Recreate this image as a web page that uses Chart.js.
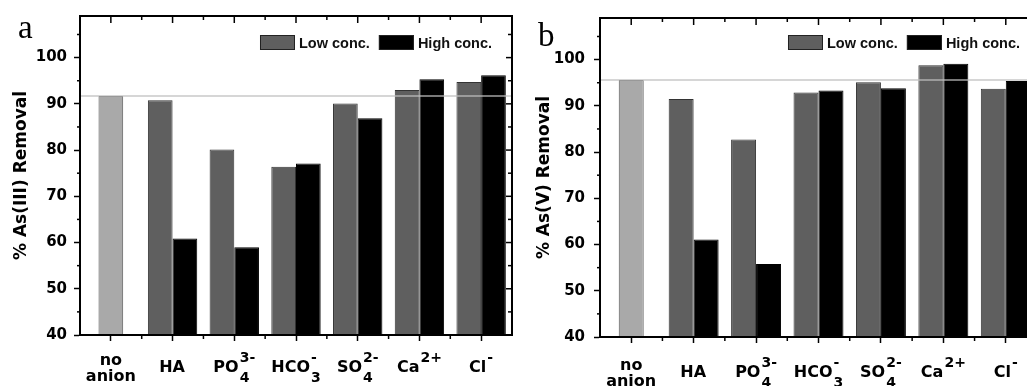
<!DOCTYPE html>
<html>
<head>
<meta charset="utf-8">
<script src="https://cdn.jsdelivr.net/npm/chart.js@4.4.0/dist/chart.umd.min.js"></script>
<style>
  html, body { margin: 0; padding: 0; overflow: hidden; background: #fff; }
  #wrapA { position: absolute; left: 0; top: 0; }
  #wrapB { position: absolute; left: 520px; top: 0; }
</style>
</head>
<body>
<div id="wrapA"><canvas id="chartA" width="520" height="386"></canvas></div>
<div id="wrapB"><canvas id="chartB" width="530" height="386"></canvas></div>
<script>
// categories and how their tick labels are typeset (base text, subscript, superscript)
const categories = ['no anion', 'HA', 'PO4 3-', 'HCO3 -', 'SO4 2-', 'Ca 2+', 'Cl -'];
const labelBase = [['no', 'anion'], ['HA'], ['PO'], ['HCO'], ['SO'], ['Ca'], ['Cl']];
const labelSub = ['', '', '4', '3', '4', '', ''];
const labelSup = ['', '', '3-', '-', '2-', '2+', '-'];

const yMin = 40, yMax = 109, yStep = 10;

// panel a: As(III)
const controlA = [91.7, null, null, null, null, null, null];
const lowA = [null, 90.8, 80.1, 76.4, 90.1, 93.0, 94.7];
const highA = [null, 60.9, 59.0, 77.1, 86.9, 95.3, 96.2];

// panel b: As(V)
const controlB = [95.6, null, null, null, null, null, null];
const lowB = [null, 91.5, 82.7, 92.9, 95.1, 98.8, 93.7];
const highB = [null, 61.1, 55.8, 93.3, 93.8, 99.1, 95.4];

const BIG = 'bold 16px "DejaVu Sans"';
const SMALL = 'bold 14px "DejaVu Sans"';

function line(ctx, x1, y1, x2, y2) {
    ctx.beginPath();
    ctx.moveTo(x1, y1);
    ctx.lineTo(x2, y2);
    ctx.stroke();
}

function drawLabel(ctx, i, cx, by) {
    const base = labelBase[i];
    ctx.fillStyle = '#000';
    ctx.textBaseline = 'alphabetic';
    if (base.length > 1) {
        ctx.font = BIG;
        ctx.textAlign = 'center';
        ctx.fillText(base[0], cx, by - 7);
        ctx.fillText(base[1], cx, by + 9);
        return;
    }
    ctx.font = BIG;
    const wb = ctx.measureText(base[0]).width;
    ctx.font = SMALL;
    const ws = Math.max(ctx.measureText(labelSub[i]).width, ctx.measureText(labelSup[i]).width);
    const start = cx - (wb + ws + 1) / 2;
    ctx.textAlign = 'left';
    ctx.font = BIG;
    ctx.fillText(base[0], start, by);
    ctx.font = SMALL;
    if (labelSub[i]) ctx.fillText(labelSub[i], start + wb + 1, by + 10);
    if (labelSup[i]) ctx.fillText(labelSup[i], start + wb + 1, by - 10);
}

const framePlugin = {
    id: 'frame',
    afterDraw(chart, args, o) {
        const ctx = chart.ctx;
        const a = chart.chartArea;
        const x = chart.scales.x, y = chart.scales.y;
        const n = chart.data.labels.length;
        ctx.save();

        // reference line at the "no anion" level
        const ry = y.getPixelForValue(chart.data.datasets[0].data[0]);
        ctx.strokeStyle = 'rgba(190,190,190,0.85)';
        ctx.lineWidth = 1.5;
        line(ctx, a.left, ry, a.right, ry);

        // frame + mirrored ticks
        ctx.strokeStyle = '#000';
        ctx.lineWidth = 2;
        ctx.strokeRect(a.left, a.top, a.width, a.height);
        ctx.lineWidth = 1.5;
        for (let i = 0; i < n; i++) {
            const cx = x.getPixelForValue(i);
            line(ctx, cx, a.top, cx, a.top + 7);
            if (i < n - 1) {
                const bx = (cx + x.getPixelForValue(i + 1)) / 2;
                line(ctx, bx, a.top, bx, a.top + 4);
                line(ctx, bx, a.bottom, bx, a.bottom + 4);
            }
        }
        for (let v = yMin + yStep / 2; v < yMax; v += yStep / 2) {
            const py = y.getPixelForValue(v);
            const major = v % yStep === 0;
            line(ctx, a.right, py, a.right - (major ? 6 : 4), py);
            if (!major) line(ctx, a.left, py, a.left - 3, py);
        }

        // legend inside the plot, top right
        ctx.font = 'bold 14.5px "Liberation Sans"';
        ctx.textBaseline = 'middle';
        ctx.textAlign = 'left';
        const items = chart.data.datasets.slice(1);
        const boxW = 35, boxH = 15, top = a.top + o.legendTop;
        let xr = a.right - o.legendRight;
        for (let k = items.length - 1; k >= 0; k--) {
            const w = ctx.measureText(items[k].label).width;
            xr -= w;
            ctx.fillStyle = '#111';
            ctx.fillText(items[k].label, xr, top + boxH / 2 + 1);
            xr -= 4 + boxW;
            ctx.fillStyle = items[k].backgroundColor;
            ctx.fillRect(xr, top, boxW, boxH);
            ctx.strokeStyle = '#222';
            ctx.lineWidth = 1;
            ctx.strokeRect(xr + 0.5, top + 0.5, boxW - 1, boxH - 1);
            xr -= 9;
        }

        // panel letter
        ctx.font = '33px "Liberation Serif"';
        ctx.textBaseline = 'alphabetic';
        ctx.fillStyle = '#000';
        ctx.fillText(o.letter, a.left - 62, a.top + o.letterDy);

        // category labels with sub/superscripts
        for (let i = 0; i < n; i++) {
            drawLabel(ctx, i, x.getPixelForValue(i), a.bottom + o.labelDy);
        }
        ctx.restore();
    }
};

function makePanel(id, control, low, high, p) {
    return new Chart(document.getElementById(id), {
        type: 'bar',
        data: {
            labels: categories,
            datasets: [{
                label: 'no anion',
                data: control,
                backgroundColor: '#a9a9a9',
                borderColor: '#555',
                borderWidth: 1,
                grouped: false,
                categoryPercentage: 0.8,
                barPercentage: 0.5
            }, {
                label: 'Low conc.',
                data: low,
                backgroundColor: '#5f5f5f',
                borderColor: '#333',
                borderWidth: 1,
                categoryPercentage: 0.8,
                barPercentage: 1
            }, {
                label: 'High conc.',
                data: high,
                backgroundColor: '#000',
                borderColor: '#000',
                borderWidth: 1,
                categoryPercentage: 0.8,
                barPercentage: 1
            }]
        },
        options: {
            responsive: false,
            animation: false,
            layout: { padding: { top: p.top, right: p.right, left: 0, bottom: 0 } },
            plugins: {
                legend: { display: false },
                tooltip: { enabled: false },
                frame: p
            },
            scales: {
                x: {
                    offset: true,
                    ticks: { display: false },
                    grid: { offset: false, drawOnChartArea: false, tickLength: 6, tickColor: '#000', tickWidth: 1.5 },
                    border: { display: true, color: '#000', width: 2 },
                    afterFit: function (s) { s.height = p.xHeight; }
                },
                y: {
                    min: yMin,
                    max: yMax,
                    ticks: {
                        stepSize: yStep,
                        includeBounds: false,
                        color: '#000',
                        padding: p.tickPad,
                        font: { family: 'DejaVu Sans', size: 15, weight: 'bold' }
                    },
                    grid: { drawOnChartArea: false, tickLength: 6, tickColor: '#000', tickWidth: 1.5 },
                    border: { display: true, color: '#000', width: 2 },
                    title: {
                        display: true,
                        text: p.yTitle,
                        color: '#000',
                        padding: { top: p.titlePad, bottom: 0 },
                        font: { family: 'DejaVu Sans', size: 17, weight: 'bold' }
                    },
                    afterFit: function (s) { s.width = 80; }
                }
            }
        },
        plugins: [framePlugin]
    });
}

makePanel('chartA', controlA, lowA, highA, {
    yTitle: '% As(III) Removal', letter: 'a',
    top: 16, right: 8, xHeight: 51, tickPad: 7, titlePad: 11,
    legendTop: 19, legendRight: 20, letterDy: 22, labelDy: 37
});
makePanel('chartB', controlB, lowB, highB, {
    yTitle: '% As(V) Removal', letter: 'b',
    top: 15, right: 13, xHeight: 49, tickPad: 9, titlePad: 14,
    legendTop: 17, legendRight: 17, letterDy: 28, labelDy: 40
});
</script>
</body>
</html>
